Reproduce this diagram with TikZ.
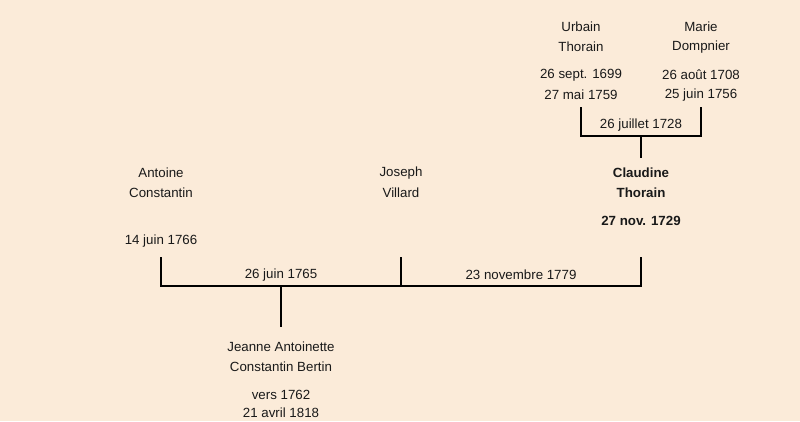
\documentclass[tikz,border=0pt]{standalone}
\usepackage{fontspec}
\setmainfont{Liberation Sans}
\definecolor{bgc}{RGB}{251,235,217}
\begin{document}
\begin{tikzpicture}[x=1pt,y=-1pt,
  lbl/.style={inner sep=0pt,anchor=center,font=\fontsize{13.3}{15}\selectfont,text=black!90},
  bl/.style={lbl,font=\fontsize{13.3}{15}\selectfont\bfseries},
  ln/.style={line width=2pt,line cap=rect}]
\fill[bgc] (0,0) rectangle (800,421);
\useasboundingbox (0,0) rectangle (800,421);
% top parents
\node[lbl] (u1) at (581,27) {Urbain};
\node[lbl] (u2) at (581,47) {Thorain};
\node[lbl] (u3) at (581,75) {26 sept. 1699};
\node[lbl] (u4) at (581,95) {27 mai 1759};
\node[lbl] (m1) at (701,27) {Marie};
\node[lbl] (m2) at (701,47) {Dompnier};
\node[lbl] (m3) at (701,75) {26 août 1708};
\node[lbl] (m4) at (701,95) {25 juin 1756};
\node[lbl] (mar1) at (641,125) {26 juillet 1728};
\coordinate (ua) at (581,108);
\coordinate (ub) at (581,136);
\coordinate (ma) at (701,108);
\coordinate (mb) at (701,136);
\coordinate (ca) at (641,136);
\coordinate (cb) at (641,157);
\draw[ln] (ua) -- (ub) -- (mb) -- (ma);
\draw[ln] (ca) -- (cb);
% middle row
\node[bl] (c1) at (641,173) {Claudine};
\node[bl] (c2) at (641,193) {Thorain};
\node[bl] (c3) at (641,221) {27 nov. 1729};
\node[lbl] (a1) at (161,173) {Antoine};
\node[lbl] (a2) at (161,193) {Constantin};
\node[lbl] (a3) at (161,241) {14 juin 1766};
\node[lbl] (j1) at (401,173) {Joseph};
\node[lbl] (j2) at (401,193) {Villard};
\node[lbl] (mar2) at (281,275) {26 juin 1765};
\node[lbl] (mar3) at (521,275) {23 novembre 1779};
\coordinate (aa) at (161,258);
\coordinate (ab) at (161,286);
\coordinate (ja) at (401,258);
\coordinate (jb) at (401,286);
\coordinate (cc) at (641,258);
\coordinate (cd) at (641,286);
\coordinate (ka) at (281,286);
\coordinate (kb) at (281,326);
\draw[ln] (aa) -- (ab) -- (cd) -- (cc);
\draw[ln] (ja) -- (jb);
\draw[ln] (ka) -- (kb);
% child
\node[lbl] (k1) at (281,347) {Jeanne Antoinette};
\node[lbl] (k2) at (281,367) {Constantin Bertin};
\node[lbl] (k3) at (281,395) {vers 1762};
\node[lbl] (k4) at (281,413) {21 avril 1818};
\end{tikzpicture}
\end{document}
